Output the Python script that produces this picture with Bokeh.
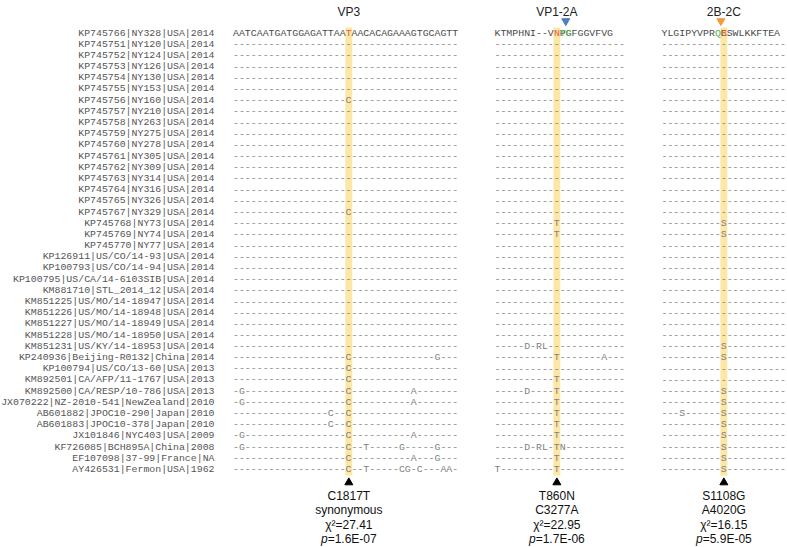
from bokeh.plotting import figure
from bokeh.models import Range1d
from bokeh.embed import file_html
from bokeh.resources import INLINE
from bokeh.core.properties import value

# ---------------- data ----------------
labels = [
    "KP745766|NY328|USA|2014", "KP745751|NY120|USA|2014", "KP745752|NY124|USA|2014",
    "KP745753|NY126|USA|2014", "KP745754|NY130|USA|2014", "KP745755|NY153|USA|2014",
    "KP745756|NY160|USA|2014", "KP745757|NY210|USA|2014", "KP745758|NY263|USA|2014",
    "KP745759|NY275|USA|2014", "KP745760|NY278|USA|2014", "KP745761|NY305|USA|2014",
    "KP745762|NY309|USA|2014", "KP745763|NY314|USA|2014", "KP745764|NY316|USA|2014",
    "KP745765|NY326|USA|2014", "KP745767|NY329|USA|2014", "KP745768|NY73|USA|2014",
    "KP745769|NY74|USA|2014", "KP745770|NY77|USA|2014", "KP126911|US/CO/14-93|USA|2014",
    "KP100793|US/CO/14-94|USA|2014", "KP100795|US/CA/14-6103SIB|USA|2014",
    "KM881710|STL_2014_12|USA|2014", "KM851225|US/MO/14-18947|USA|2014",
    "KM851226|US/MO/14-18948|USA|2014", "KM851227|US/MO/14-18949|USA|2014",
    "KM851228|US/MO/14-18950|USA|2014", "KM851231|US/KY/14-18953|USA|2014",
    "KP240936|Beijing-R0132|China|2014", "KP100794|US/CO/13-60|USA|2013",
    "KM892501|CA/AFP/11-1767|USA|2013", "KM892500|CA/RESP/10-786|USA|2013",
    "JX070222|NZ-2010-541|NewZealand|2010", "AB601882|JPOC10-290|Japan|2010",
    "AB601883|JPOC10-378|Japan|2010", "JX101846|NYC403|USA|2009",
    "KF726085|BCH895A|China|2008", "EF107098|37-99|France|NA", "AY426531|Fermon|USA|1962",
]

region_titles = ["VP3", "VP1-2A", "2B-2C"]
vp3_ref = "AATCAATGATGGAGATTAATAACACAGAAAGTGCAGTT"
vp1_ref = "KTMPHNI--VNTGPGFGGVFVG"
b2c_ref = "YLGIPYVPRQGESWLKKFTEA"

# differences from the first (reference) row: row index -> {column: residue}
vp3_var = {
    6: {19: "C"}, 16: {19: "C"}, 29: {19: "C", 34: "G"}, 30: {19: "C"}, 31: {19: "C"},
    32: {1: "G", 19: "C", 30: "A"}, 33: {1: "G", 19: "C", 30: "A"},
    34: {16: "C", 19: "C"}, 35: {16: "C", 19: "C"}, 36: {1: "G", 19: "C", 30: "A"},
    37: {1: "G", 19: "C", 22: "T", 28: "G", 34: "G"}, 38: {19: "C", 30: "A", 34: "G"},
    39: {19: "C", 22: "T", 28: "C", 29: "G", 31: "C", 35: "A", 36: "A"},
}
vp1_var = {
    17: {10: "T"}, 18: {10: "T"}, 28: {5: "D", 7: "R", 8: "L"}, 29: {10: "T", 18: "A"},
    31: {10: "T"}, 32: {5: "D", 10: "T"}, 33: {10: "T"}, 34: {10: "T"}, 35: {10: "T"},
    36: {10: "T"}, 37: {5: "D", 7: "R", 8: "L", 10: "T", 11: "N"}, 38: {10: "T"},
    39: {0: "T", 10: "T"},
}
b2c_var = {
    17: {10: "S"}, 18: {10: "S"}, 28: {10: "S"}, 29: {10: "S"}, 32: {10: "S"},
    33: {10: "S"}, 34: {3: "S", 10: "S"}, 35: {10: "S"}, 36: {10: "S"}, 37: {10: "S"},
    38: {10: "S"}, 39: {10: "S"},
}
site_cols = [19, 10, 10]
header_red = [[19], [10], [10]]
header_green = [[], [11, 12], [9]]
cleavage_cols = [None, 12, 10]
cleavage_colors = [None, "#4f7fc0", "#f39a3a"]

annot_1 = ["C1817T", "T860N", "S1108G"]
annot_2 = ["synonymous", "C3277A", "A4020G"]
annot_chi = ["χ²=27.41", "χ²=22.95", "χ²=16.15"]
annot_p = ["1.6E-07", "1.7E-06", "5.9E-05"]

# ---------------- layout ----------------
W, H = 787, 547
XR = (0, 787)
YR = (547, 0)
sx = W / (XR[1] - XR[0])
cw = 5.94
mono_px = cw * sx / 0.6
MONO = value("Liberation Mono")
SANS = value("Liberation Sans")
x0s = [232.5, 494.0, 661.0]
row_y0, row_dy = 32.5, 11.19
label_right = 214.0

p = figure(width=W, height=H, x_range=Range1d(*XR), y_range=Range1d(*YR),
           output_backend="svg", toolbar_location=None, min_border=0,
           x_axis_type=None, y_axis_type=None)
p.grid.visible = False
p.outline_line_color = None
p.background_fill_color = "white"

ys = [row_y0 + i * row_dy for i in range(len(labels))]

refs = [vp3_ref, vp1_ref, b2c_ref]
vars_ = [vp3_var, vp1_var, b2c_var]

# highlighted columns
for x0, c in zip(x0s, site_cols):
    p.quad(left=x0 + c * cw - 0.5, right=x0 + (c + 1) * cw + 0.5,
           top=ys[0] - 5.5, bottom=ys[-1] + 6, fill_color="#fde7a6", line_color=None)

# labels
p.text(x=[label_right] * len(labels), y=ys, text=labels, text_font=MONO,
       text_font_size=f"{mono_px:.2f}px", text_color="#555555",
       text_align="right", text_baseline="middle")

# alignment rows
hx, hy, ht = [], [], []
rx, ry, rt = [], [], []
cx, cy, ct, cc = [], [], [], []
for b, (ref, var, x0) in enumerate(zip(refs, vars_, x0s)):
    hdr = list(ref)
    for c in header_red[b]:
        cx.append(x0 + (c + 0.5) * cw); cy.append(ys[0]); ct.append(ref[c]); cc.append("#ee5a36")
        hdr[c] = " "
    for c in header_green[b]:
        cx.append(x0 + (c + 0.5) * cw); cy.append(ys[0]); ct.append(ref[c]); cc.append("#4cb856")
        hdr[c] = " "
    hx.append(x0); hy.append(ys[0]); ht.append("".join(hdr))
    for r in range(1, len(labels)):
        s = ["-"] * len(ref)
        for c, ch in var.get(r, {}).items():
            s[c] = ch
        rx.append(x0); ry.append(ys[r]); rt.append("".join(s))

p.text(x=hx, y=hy, text=ht, text_font=MONO, text_font_size=f"{mono_px:.2f}px",
       text_color="#4a4a4a", text_align="left", text_baseline="middle")
p.text(x=rx, y=ry, text=rt, text_font=MONO, text_font_size=f"{mono_px:.2f}px",
       text_color="#808080", text_align="left", text_baseline="middle")
p.text(x=cx, y=cy, text=ct, text_color=cc, text_font=MONO,
       text_font_size=f"{mono_px:.2f}px", text_align="center", text_baseline="middle")

# titles
centers = [x0 + (c + 0.5) * cw for x0, c in zip(x0s, site_cols)]
p.text(x=centers, y=[11] * 3, text=region_titles, text_font=SANS, text_font_size="12px",
       text_color="#222222", text_align="center", text_baseline="middle")

# cleavage-site triangles
for x0, c, col in zip(x0s, cleavage_cols, cleavage_colors):
    if c is not None:
        p.scatter(x=[x0 + c * cw], y=[20.5], marker="inverted_triangle", size=8,
                  fill_color=col, line_color=col)

# bottom markers and annotations
p.scatter(x=centers, y=[482] * 3, marker="triangle", size=8, fill_color="black", line_color="black")
p.text(x=centers, y=[495] * 3, text=annot_1, text_font=SANS, text_font_size="12px",
       text_color="#111111", text_align="center", text_baseline="middle")
p.text(x=centers, y=[509.5] * 3, text=annot_2, text_font=SANS, text_font_size="12px",
       text_color="#111111", text_align="center", text_baseline="middle")
p.text(x=centers, y=[524] * 3, text=annot_chi, text_font=SANS, text_font_size="12px",
       text_color="#111111", text_align="center", text_baseline="middle")

widths = {"=": 0.584, ".": 0.278, "E": 0.667, "-": 0.333}
def w_em(s):
    return sum(widths.get(ch, 0.556) for ch in s)
px_x, px_rest = [], []
for cxx, pv in zip(centers, annot_p):
    total = (0.556 + w_em("=" + pv)) * 12 / sx
    start = cxx - total / 2
    px_x.append(start)
    px_rest.append(start + 0.556 * 12 / sx)
p.text(x=px_x, y=[538.5] * 3, text=["p"] * 3, text_font=SANS, text_font_size="12px",
       text_font_style="italic", text_color="#111111", text_align="left", text_baseline="middle")
p.text(x=px_rest, y=[538.5] * 3, text=["=" + v for v in annot_p], text_font=SANS,
       text_font_size="12px", text_color="#111111", text_align="left", text_baseline="middle")

open("out.html", "w").write(file_html(p, INLINE))
